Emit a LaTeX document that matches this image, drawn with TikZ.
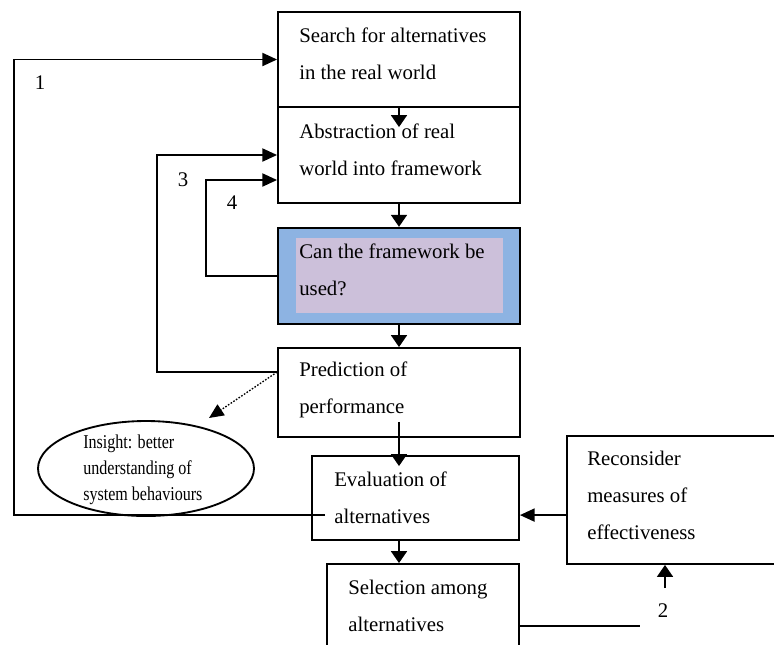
\documentclass[tikz,border=0pt]{standalone}
\usepackage{fontspec}
\setmainfont{Liberation Serif}
\newfontfamily\insightfont{Liberation Serif}[FakeStretch=0.82]
\usetikzlibrary{arrows.meta,calc,shapes.geometric}
\newdimen\pxu \pxu=0.75pt
\definecolor{frameblue}{RGB}{141,179,226}
\definecolor{lavender}{RGB}{204,192,218}
\tikzset{
  stage/.style={draw, rectangle, line width=1.4pt, inner sep=0pt},
  % multi-line texts are placed by the baseline of their last line
  boxtext/.style={anchor=base west, align=left, inner sep=0pt},
  numtext/.style={inner sep=0pt},
  varr/.style={line width=1.4pt, -{Triangle[length=9pt,width=12pt]}},
  harr/.style={line width=1.4pt, -{Triangle[length=11pt,width=9.75pt]}},
  plain/.style={line width=1.4pt}
}
\begin{document}
\begin{tikzpicture}[x=0.75pt,y=-0.75pt,font=\fontsize{15.6}{27.4}\selectfont]
\useasboundingbox (0,0) rectangle (774,644);
\clip (0,0) rectangle (774,644);

% process boxes
\node[stage, minimum width=242\pxu, minimum height=95\pxu] (search) at (399,59.5) {};
\node[stage, minimum width=242\pxu, minimum height=96\pxu] (abstr) at (399,155) {};
\node[stage, line width=1.8pt, fill=frameblue, minimum width=242\pxu, minimum height=96\pxu] (can) at (399,276) {};
\node[fill=lavender, inner sep=0pt, minimum width=207\pxu, minimum height=75\pxu] (caninner) at (399.5,275.5) {};
\node[stage, minimum width=242\pxu, minimum height=89\pxu] (pred) at (399,392.5) {};
\node[stage, minimum width=207\pxu, minimum height=84\pxu] (eval) at (415.5,498) {};
\node[stage, minimum width=223\pxu, minimum height=128\pxu] (recon) at (678.5,500) {};
\node[stage, minimum width=192\pxu, minimum height=106\pxu] (select) at (423,617) {};
\node[draw, ellipse, line width=1.4pt, inner sep=0pt, minimum width=216\pxu, minimum height=95\pxu] (insight) at (146,468.5) {};

% box texts
\node[boxtext] (searchtext) at (299,79) {Search for alternatives\\in the real world};
\node[boxtext] (abstrtext) at (299,175) {Abstraction of real\\world into framework};
\node[boxtext] (cantext) at (299,295) {Can the framework be\\used?};
\node[boxtext] (predtext) at (299,413) {Prediction of\\performance};
\node[boxtext] (evaltext) at (334,523) {Evaluation of\\alternatives};
\node[boxtext] (recontext) at (587,539) {Reconsider\\measures of\\effectiveness};
\node[boxtext] (selecttext) at (348,631) {Selection among\\alternatives};
\node[boxtext, font=\insightfont\fontsize{14.7}{19.5}\selectfont] (insighttext) at (83,500) {Insight: better\\understanding of\\system behaviours};

% loop numbers
\node[numtext] (n1) at (40,82.5) {1};
\node[numtext] (n3) at (183,180) {3};
\node[numtext] (n4) at (232,203) {4};
\node[numtext] (n2) at (663,611) {2};

% main flow
\draw[varr] (search.south) -- ($(abstr.north)+(0,21)$);
\draw[varr] (abstr.south) -- (can.north);
\draw[varr] (can.south) -- (pred.north);
\draw[varr] ($(pred.south)+(0,-16)$) -- ($(pred.south |- eval.north)+(0,11)$);
\draw[varr] (eval.south -| abstr.south) -- (select.north -| abstr.south);

% feedback loops
\coordinate (a1) at ($(eval.north west)+(14,60)$);
\draw[harr] (a1) -- ++(-311,0) |- (search.west);
\coordinate (p3) at ($(pred.north west)+(0,25)$);
\draw[harr] (p3) -- ++(-120,0) |- (abstr.west);
\draw[harr] (can.west) -- ++(-71,0) |- ($(abstr.west)+(0,25)$);
\draw[harr] (recon.west |- a1) -- (eval.east |- a1);
\draw[plain] ($(select.north east)+(0,63)$) -- ++(120,0);
\draw[varr] ($(n2.center)+(2,-23)$) -- ($(n2.center |- recon.south)+(2,0)$);

% insight side branch
\coordinate (insighttip) at (209,418);
\draw[line width=1pt, dash pattern=on 1.2pt off 1.2pt, -{Triangle[length=11pt,width=9.75pt]}] (p3) -- (insighttip);
\end{tikzpicture}
\end{document}
